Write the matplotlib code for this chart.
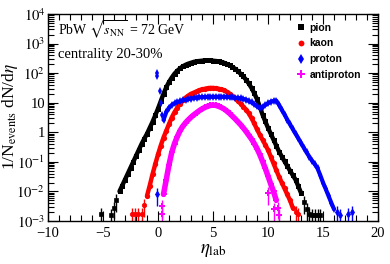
import numpy as np
import matplotlib
matplotlib.use("Agg")
import matplotlib.pyplot as plt
from matplotlib.lines import Line2D
from matplotlib.ticker import MultipleLocator, LogLocator, FuncFormatter, NullFormatter

plt.rcParams['font.family'] = ['Liberation Serif', 'DejaVu Serif']
plt.rcParams['mathtext.fontset'] = 'stix'

# values, stored as log10(1/N dN/deta)
pion_eta = np.arange(-3.5, 13.01, 0.25)
pion_log = [-2.0, -1.8,
            -1.6, -1.4, -1.2, -1.0,
            -0.8, -0.6, -0.4, -0.22,
            -0.05, 0.15, 0.35, 0.57,
            0.8, 1.05, 1.3, 1.52,
            1.7, 1.85, 1.98, 2.08,
            2.16, 2.23, 2.28, 2.32,
            2.35, 2.38, 2.4, 2.41,
            2.42, 2.43, 2.43, 2.43,
            2.42, 2.41, 2.4, 2.38,
            2.35, 2.31, 2.27, 2.21,
            2.15, 2.07, 1.98, 1.89,
            1.78, 1.65, 1.5, 1.32,
            1.12, 0.87, 0.6, 0.37,
            0.15, -0.05, -0.25, -0.45,
            -0.65, -0.82, -0.98, -1.14,
            -1.3, -1.45, -1.6, -1.82,
            -2.05]
pion_tail_eta = [-5.2, -4.3, -4.0, -3.8, 13.25, 13.5, 13.75, 14.0, 14.25, 14.5, 14.75]
pion_tail_log = [-2.75, -2.8, -2.55, -2.3, -2.35, -2.6, -2.75, -2.8, -2.8, -2.8, -2.8]

kaon_eta = np.arange(-1.0, 12.26, 0.25)
kaon_log = [-2.15, -1.8, -1.42, -1.08,
            -0.75, -0.45, -0.18, 0.05,
            0.28, 0.5, 0.68, 0.83,
            0.97, 1.08, 1.17, 1.24,
            1.3, 1.34, 1.38, 1.42,
            1.45, 1.47, 1.49, 1.5,
            1.5, 1.49, 1.47, 1.45,
            1.42, 1.37, 1.31, 1.24,
            1.15, 1.06, 0.97, 0.87,
            0.77, 0.64, 0.48, 0.3,
            0.1, -0.08, -0.25, -0.42,
            -0.6, -0.82, -1.05, -1.28,
            -1.5, -1.7, -1.9, -2.1,
            -2.3, -2.55]
kaon_tail_eta = [-2.4, -2.1, -1.8, -1.5, -1.25, 12.5, 12.75]
kaon_tail_log = [-2.75, -2.75, -2.75, -2.75, -2.45, -2.7, -2.75]

proton_spike_eta = [-0.1, -0.05, 0.15, 0.25, 0.4]
proton_spike_log = [2.02, 1.9, 1.4, 1.0, 0.6]
proton_eta = np.arange(0.5, 16.01, 0.25)
proton_log = [0.42, 0.68,
              0.83, 0.92, 0.98, 1.02,
              1.05, 1.08, 1.1, 1.12,
              1.14, 1.16, 1.17, 1.18,
              1.19, 1.19, 1.2, 1.2,
              1.2, 1.2, 1.2, 1.2,
              1.2, 1.19, 1.19, 1.18,
              1.17, 1.16, 1.15, 1.13,
              1.1, 1.06, 1.01, 0.95,
              0.88, 0.82, 0.86, 0.92,
              0.98, 1.03, 1.06, 1.07,
              0.93, 0.76, 0.6, 0.43,
              0.27, 0.11, -0.05, -0.2,
              -0.36, -0.52, -0.68, -0.82,
              -0.96, -1.08, -1.22, -1.45,
              -1.7, -1.92, -2.15, -2.38,
              -2.6]
proton_tail_eta = [-0.1, 16.25, 16.5, 17.25, 17.6]
proton_tail_log = [-2.1, -2.7, -2.8, -2.75, -2.7]

apro_eta = np.arange(0.5, 10.76, 0.25)
apro_log = [-2.1, -1.6,
            -1.1, -0.68, -0.38, -0.15,
            0.05, 0.2, 0.32, 0.42,
            0.51, 0.59, 0.66, 0.73,
            0.79, 0.84, 0.88, 0.91,
            0.92, 0.91, 0.88, 0.84,
            0.79, 0.72, 0.64, 0.55,
            0.46, 0.36, 0.26, 0.15,
            0.03, -0.1, -0.23, -0.38,
            -0.55, -0.75, -0.98, -1.22,
            -1.48, -1.75, -2.0, -2.3]
apro_tail_eta = [0.35, 0.4, 10.0, 10.5, 10.9, 11.0]
apro_tail_log = [-2.75, -2.5, -2.05, -2.6, -2.55, -2.8]

tail_rel_err = 0.6

names = ['pion', 'kaon', 'proton', 'antiproton']

fig = plt.figure(figsize=(3.9, 2.64), dpi=100)
ax = fig.add_axes([48/390, 1-221/264, 330/390, 207/264])


def body(x, logv, color, marker, ms, lw):
    # dense bins in the original look like a solid band
    ax.plot(x, 10**np.array(logv), '-', color=color, lw=lw, solid_capstyle='round')
    ax.plot(x, 10**np.array(logv), marker, color=color, ms=ms, mew=0)


def tail(x, logv, color, marker, ms, mew=0.5):
    v = 10**np.array(logv)
    ax.errorbar(x, v, yerr=v*tail_rel_err, xerr=0.05, fmt=marker, color=color,
                ms=ms, mew=mew, elinewidth=1, capsize=0)


body(pion_eta, pion_log, 'black', 's', 3.6, 3.2)
tail(pion_tail_eta, pion_tail_log, 'black', 's', 3.2)

body(kaon_eta, kaon_log, 'red', 'o', 3.8, 3.2)
tail(kaon_tail_eta, kaon_tail_log, 'red', 'o', 3.2)

ax.plot(proton_spike_eta, 10**np.array(proton_spike_log), 'd', color='blue', ms=4, mew=0)
body(proton_eta, proton_log, 'blue', 'd', 4.2, 3.0)
tail(proton_tail_eta, proton_tail_log, 'blue', 'd', 3.5)

body(apro_eta, apro_log, 'magenta', 'P', 5, 4.0)
tail(apro_tail_eta, apro_tail_log, 'magenta', 'P', 4.5, 0)

ax.set_yscale('log')
ax.set_xlim(-10, 20)
ax.set_ylim(1e-3, 1e4)

ax.xaxis.set_major_locator(MultipleLocator(5))
ax.xaxis.set_minor_locator(MultipleLocator(1))
ax.yaxis.set_major_locator(LogLocator(base=10, numticks=12))
ax.yaxis.set_minor_locator(LogLocator(base=10, subs=np.arange(2, 10), numticks=12))
ax.yaxis.set_minor_formatter(NullFormatter())


def yfmt(v, pos):
    e = int(round(np.log10(v)))
    if e == 0:
        return '1'
    if e == 1:
        return '10'
    return r'$10^{%d}$' % e


ax.yaxis.set_major_formatter(FuncFormatter(yfmt))
ax.tick_params(which='both', direction='in', top=True, right=True, labelsize=10.5, width=0.8)
ax.tick_params(which='major', length=7, pad=2)
ax.tick_params(axis='x', which='major', pad=4.5)
ax.tick_params(which='minor', length=4)
for s in ax.spines.values():
    s.set_linewidth(1)

fig.text(58/390, 1-35/264, r'PbW $\sqrt{s_{\rm NN}}$ = 72 GeV', fontsize=10, va='baseline')
fig.text(58/390, 1-58/264, 'centrality 20-30%', fontsize=10.5, va='baseline')
fig.text(213/390, 0.042, r'$\eta_{\rm lab}$', fontsize=13.5, ha='center', va='baseline')
fig.text(10/390, 1-117/264, r'1/N$_{\rm events}$ dN/d$\eta$', fontsize=12.5,
         rotation=90, ha='center', va='center')

handles = [Line2D([], [], ls='', marker='s', color='black', ms=4, mew=0),
           Line2D([], [], ls='', marker='o', color='red', ms=4.2, mew=0),
           Line2D([], [], ls='', marker='d', color='blue', ms=5, mew=0),
           Line2D([], [], ls='', marker='P', color='magenta', ms=6, mew=0)]
ax.legend(handles, names, loc='upper left', bbox_to_anchor=(0.755, 0.958), frameon=False,
          prop=dict(family='Liberation Sans', weight='bold', size=7.5),
          handlelength=0.7, handletextpad=0.5, labelspacing=0.55, borderpad=0, borderaxespad=0)

fig.savefig('out.png', dpi=100)
